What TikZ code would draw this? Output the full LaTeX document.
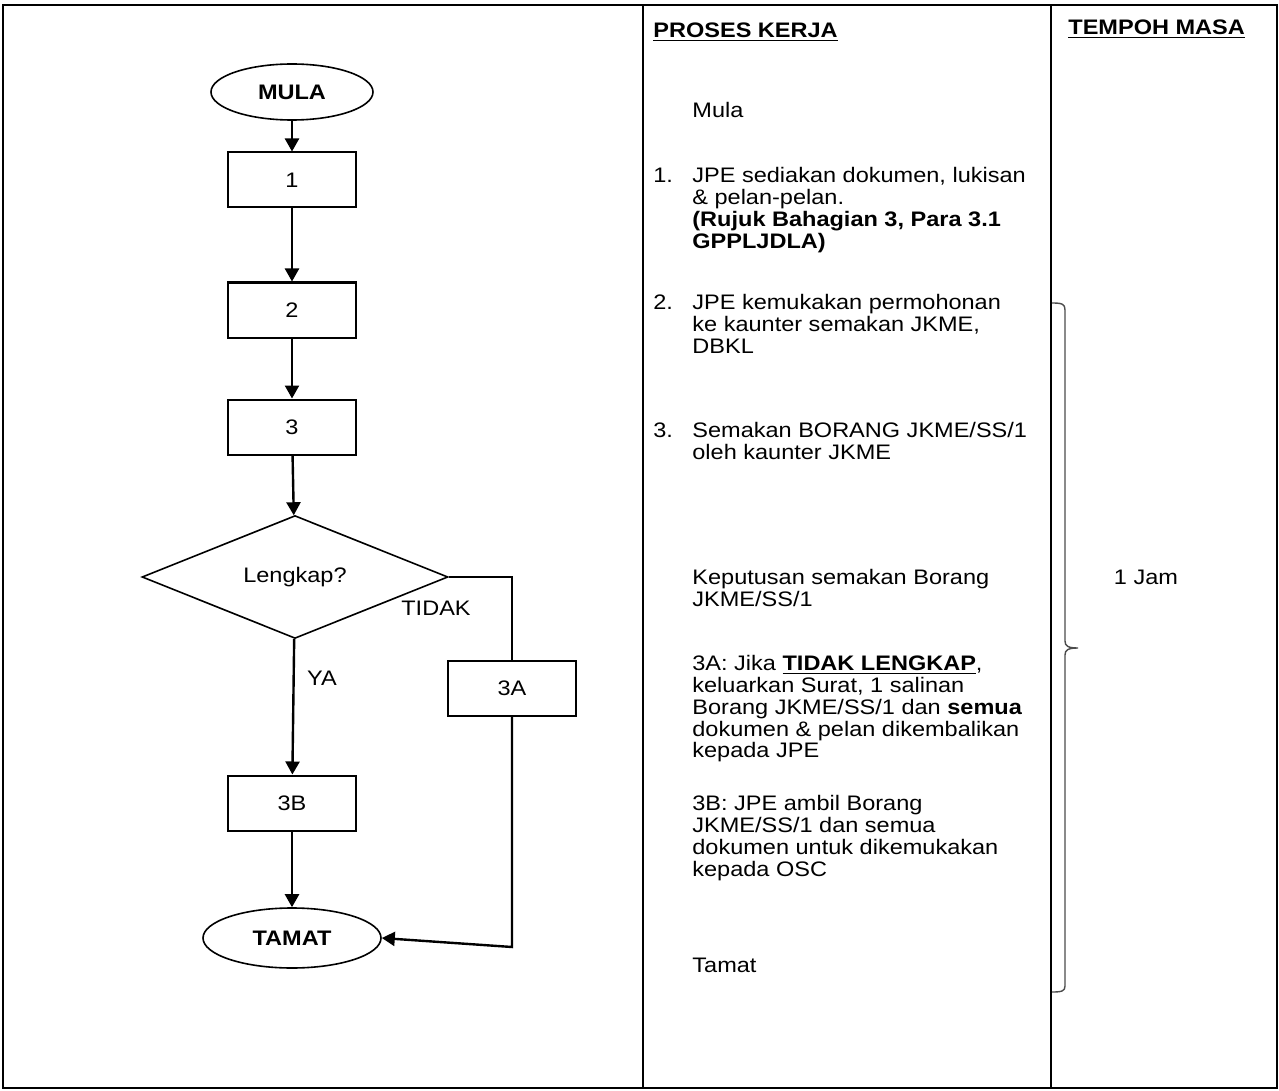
\documentclass[tikz,border=0pt]{standalone}
\usepackage{fontspec}
\setmainfont{Liberation Sans}[FakeStretch=1.12]
\usetikzlibrary{shapes.geometric,arrows.meta}

\begin{document}
\begin{tikzpicture}[x=0.5pt,y=-0.5pt,
  font=\fontsize{10.5}{10.9}\selectfont,
  every node/.style={inner sep=0pt},
  box/.style={draw,rectangle,line width=1pt,minimum width=64pt,minimum height=27.5pt},
  term/.style={draw,ellipse,line width=0.8pt,font=\fontsize{10.5}{10.9}\selectfont\bfseries},
  decide/.style={draw,diamond,line width=0.8pt,minimum width=153pt,minimum height=53.5pt},
  flow/.style={line width=1.2pt,-{Triangle[length=6.5pt,width=7pt]}},
  link/.style={line width=1.2pt},
  frame/.style={line width=1.2pt},
  txt/.style={anchor=north west,align=left,execute at begin node=\strut}]

\useasboundingbox (0,0) rectangle (1279,1091);

% table frame
\draw [frame] (3,5) rectangle (1277,1088);
\draw [frame] (643,5) -- (643,1088);
\draw [frame] (1051,5) -- (1051,1088);

% flow chart
\node (mula) at (292,92) [term,minimum width=81pt,minimum height=28pt] {MULA};
\node (b1) at (292,180) [box] {1};
\node (b2) at (292,310) [box] {2};
\node (b3) at (292,427) [box] {3};
\node (dec) at (295,577) [decide] {Lengkap?};
\node (b3a) at (512,688) [box] {3A};
\node (b3b) at (292,803) [box] {3B};
\node (tamat) at (292,938) [term,minimum width=89pt,minimum height=30pt] {TAMAT};
\coordinate (turn) at (512,947);

\draw [flow] (mula) -- (b1);
\draw [flow] (b1) -- (b2);
\draw [flow] (b2) -- (b3);
\draw [flow] (b3) -- (dec);
\draw [flow] (dec) -- (b3b);
\draw [flow] (b3b) -- (tamat);
\draw [link] (dec.east) -| (b3a.north);
\draw [flow] (b3a.south) -- (turn) -- (tamat.east);

\node (ya) at (322,678) {YA};
\node (tidak) at (436,608) {TIDAK};

% proses kerja
\node (hkerja) at (653,22) [txt,font=\fontsize{10.5}{10.9}\selectfont\bfseries] {\underline{PROSES KERJA}};
\node (t0) at (692,102) [txt] {Mula};
\node (n1) at (653,167) [txt] {1.};
\node (t1) at (692,167) [txt] {JPE sediakan dokumen, lukisan\\
  \& pelan-pelan.\\
  \textbf{(Rujuk Bahagian 3, Para 3.1}\\
  \textbf{GPPLJDLA)}};
\node (n2) at (653,294) [txt] {2.};
\node (t2) at (692,294) [txt] {JPE kemukakan permohonan\\
  ke kaunter semakan JKME,\\
  DBKL};
\node (n3) at (653,422) [txt] {3.};
\node (t3) at (692,422) [txt] {Semakan BORANG JKME/SS/1\\
  oleh kaunter JKME};
\node (tk) at (692,569) [txt] {Keputusan semakan Borang\\
  JKME/SS/1};
\node (t3a) at (692,655) [txt] {3A: Jika \textbf{\underline{TIDAK LENGKAP}},\\
  keluarkan Surat, 1 salinan\\
  Borang JKME/SS/1 dan \textbf{semua}\\
  dokumen \& pelan dikembalikan\\
  kepada JPE};
\node (t3b) at (692,795) [txt] {3B: JPE ambil Borang\\
  JKME/SS/1 dan semua\\
  dokumen untuk dikemukakan\\
  kepada OSC};
\node (t4) at (692,957) [txt] {Tamat};

% tempoh masa
\node (hmasa) at (1068,19) [txt,font=\fontsize{10.5}{10.9}\selectfont\bfseries] {\underline{TEMPOH MASA}};
\draw [draw=black!70,line width=0.7pt] (1052,303) .. controls (1062,303) and (1065,304) .. (1065,310)
  -- (1065,641) .. controls (1065,646) and (1068,648) .. (1078,648)
  .. controls (1068,648) and (1065,650) .. (1065,655)
  -- (1065,986) .. controls (1065,991) and (1062,992) .. (1052,992);
\node (jam) at (1146,577) {1 Jam};

\end{tikzpicture}
\end{document}
